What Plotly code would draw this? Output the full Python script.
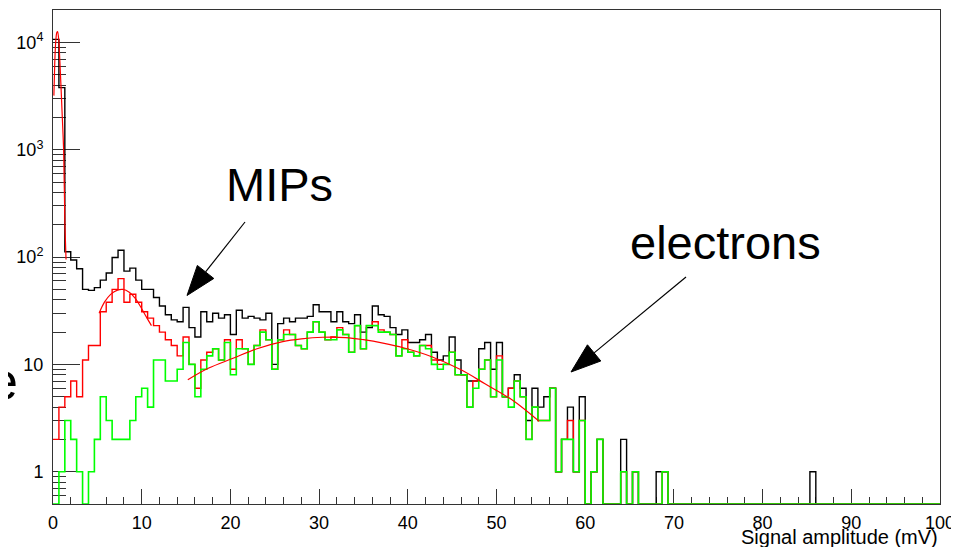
import math
import plotly.graph_objects as go

# ---------------- data ----------------
bin_width = 2.0 / 3.0          # 150 bins over 0..100 mV
n_bins = 150

black_counts = [
    10700, 3800, 112, 94, 78, 50, 49, 52, 61, 71,
    99, 116, 74, 79, 61, 50, 50, 42, 35, 29,
    26, 25, 34, 22, 18, 31, 25, 30, 27, 29,
    19, 32, 27, 28, 27, 26, 30, 10, 24, 27,
    25, 27, 27, 28, 36, 31, 31, 25, 31, 25,
    24, 29, 20, 22, 35, 29, 28, 22, 19, 21,
    16, 16, 17, 19, 13, 11, 12, 18, 11, 8,
    7, 7, 14, 16, 9, 16, 5, 6, 8, 6,
    3, 6, 4, 5, 6, 1, 2, 4, 1, 5,
    0, 1, 2, 0, 0, 0, 2, 0, 1, 0,
    0, 0, 1, 1, 0, 0, 0, 0, 0, 0,
    0, 0, 0, 0, 0, 0, 0, 0, 0, 0,
    0, 0, 0, 0, 0, 0, 0, 0, 1, 0,
    0, 0, 0, 0, 0, 0, 0, 0, 0, 0,
    0, 0, 0, 0, 0, 0, 0, 0, 0, 0,
]

red_counts = [
    2, 4, 5, 7, 5, 11, 15, 15, 31, 38,
    50, 63, 38, 45, 38, 31, 27, 23, 20, 17,
    15, 12, 18, 10, 6, 11, 13, 14, 11, 17,
    9, 17, 14, 10, 15, 21, 17, 9, 17, 21,
    19, 15, 14, 20, 25, 20, 17, 18, 22, 19,
    13, 23, 14, 23, 25, 21, 20, 19, 12, 17,
    13, 12, 15, 15, 11, 10, 10, 13, 8, 8,
    4, 7, 9, 11, 5, 12, 5, 6, 7, 5,
    2, 4, 3, 3, 6, 1, 2, 3, 1, 3,
    0, 1, 2, 0, 0, 0, 1, 0, 1, 0,
    0, 0, 0, 1, 0, 0, 0, 0, 0, 0,
    0, 0, 0, 0, 0, 0, 0, 0, 0, 0,
    0, 0, 0, 0, 0, 0, 0, 0, 0, 0,
    0, 0, 0, 0, 0, 0, 0, 0, 0, 0,
    0, 0, 0, 0, 0, 0, 0, 0, 0, 0,
]

green_counts = [
    0, 1, 3, 2, 1, 0, 1, 2, 5, 3,
    2, 2, 2, 3, 5, 6, 4, 11, 11, 7,
    7, 9, 16, 10, 5, 9, 12, 14, 11, 16,
    8, 14, 14, 10, 15, 20, 17, 9, 17, 19,
    19, 15, 14, 20, 25, 20, 17, 17, 21, 19,
    13, 23, 14, 23, 23, 20, 20, 19, 12, 14,
    13, 12, 15, 14, 10, 9, 10, 13, 8, 8,
    4, 6, 9, 11, 5, 11, 5, 4, 7, 5,
    2, 4, 3, 3, 6, 1, 2, 2, 1, 3,
    0, 1, 2, 0, 0, 0, 1, 0, 1, 0,
    0, 0, 0, 1, 0, 0, 0, 0, 0, 0,
    0, 0, 0, 0, 0, 0, 0, 0, 0, 0,
    0, 0, 0, 0, 0, 0, 0, 0, 0, 0,
    0, 0, 0, 0, 0, 0, 0, 0, 0, 0,
    0, 0, 0, 0, 0, 0, 0, 0, 0, 0,
]

# fit curves
ped_fit_x = [0.10, 0.20, 0.30, 0.42, 0.53, 0.65, 0.78, 0.90, 1.05, 1.20, 1.35, 1.47]
ped_fit_y = [3200, 6500, 10000, 12300, 12600, 10500, 6500, 3900, 2000, 1000, 190, 95]

mip_fit_x = [5.2, 5.8, 6.5, 7.2, 7.9, 8.6, 9.3, 10.0, 10.6, 11.1]
mip_fit_y = [30, 38, 45, 49, 50, 47, 41, 33, 27, 23]

ele_fit_x = [15.2, 17.5, 20.3, 23.0, 25.9, 28.0, 30.4, 33.0, 35.0, 37.2, 39.5, 42.7, 46.0, 48.7, 51.7, 54.8]
ele_fit_y = [7.2, 9.2, 11.4, 14.0, 16.3, 17.3, 17.9, 17.8, 17.0, 15.8, 14.3, 11.8, 8.9, 6.6, 4.7, 2.95]

x_tick_vals = [0, 10, 20, 30, 40, 50, 60, 70, 80, 90, 100]
y_tick_vals = [1, 10, 100, 1000, 10000]
y_tick_text = ["1", "10", "10<sup>2</sup>", "10<sup>3</sup>", "10<sup>4</sup>"]
y_minor_vals = [0.6, 0.7, 0.8, 0.9] + [m * 10 ** d for d in range(0, 4) for m in range(2, 10)]

x_title = "Signal amplitude (mV)"
label_mips = "MIPs"
label_electrons = "electrons"

# ---------------- figure ----------------
# the page body has an 8px margin, so the figure is sized/placed to compensate
OFF = 8
W, H = 959 - OFF, 547 - OFF
ML, MR, MT, MB = 53 - OFF, 19, 10 - OFF, 43
Y_MIN, Y_MAX_LOG = 0.5, 4.303
FONT = "Liberation Sans, Arial, Helvetica, sans-serif"

edges = [i * bin_width for i in range(n_bins + 1)]


def step(counts):
    y = [max(c, Y_MIN) for c in counts]
    return edges, y + [y[-1]]


fig = go.Figure()
for counts, col, lw in [(black_counts, "#000000", 1.4), (red_counts, "#ff0000", 1.4),
                        (green_counts, "#00ff00", 1.6)]:
    xs, ys = step(counts)
    fig.add_trace(go.Scatter(x=xs, y=ys, mode="lines", line=dict(color=col, width=lw, shape="hv"),
                             hoverinfo="skip", showlegend=False))

fig.add_trace(go.Scatter(x=ped_fit_x, y=ped_fit_y, mode="lines",
                         line=dict(color="#ff0000", width=1.2, shape="spline", smoothing=0.6),
                         showlegend=False, hoverinfo="skip"))
fig.add_trace(go.Scatter(x=mip_fit_x, y=mip_fit_y, mode="lines",
                         line=dict(color="#ff0000", width=1.2, shape="spline"),
                         showlegend=False, hoverinfo="skip"))
fig.add_trace(go.Scatter(x=ele_fit_x, y=ele_fit_y, mode="lines",
                         line=dict(color="#ff0000", width=1.2, shape="spline"),
                         showlegend=False, hoverinfo="skip"))

PW = W - ML - MR
PH = H - MT - MB


def px(xp):
    # page pixel -> paper fraction
    return (xp - OFF - ML) / PW


def py(yp):
    return (H - MB - (yp - OFF)) / PH


def arrow(tail, tip, head_len=30, head_w=21):
    dx, dy = tip[0] - tail[0], tip[1] - tail[1]
    L = math.hypot(dx, dy)
    ux, uy = dx / L, dy / L
    bx, by = tip[0] - head_len * ux, tip[1] - head_len * uy
    nx, ny = -uy, ux
    c1 = (bx + nx * head_w / 2, by + ny * head_w / 2)
    c2 = (bx - nx * head_w / 2, by - ny * head_w / 2)
    return [
        dict(type="line", xref="paper", yref="paper", x0=px(tail[0]), y0=py(tail[1]),
             x1=px(bx), y1=py(by), line=dict(color="black", width=1.2)),
        dict(type="path", xref="paper", yref="paper",
             path="M {} {} L {} {} L {} {} Z".format(px(tip[0]), py(tip[1]), px(c1[0]), py(c1[1]),
                                                     px(c2[0]), py(c2[1])),
             fillcolor="black", line=dict(color="black", width=1)),
    ]


shapes = arrow((245, 222), (187, 295.5)) + arrow((686, 277), (571, 372))

axis_col = "#333333"
fig.update_layout(
    width=W, height=H,
    margin=dict(l=ML, r=MR, t=MT, b=MB, autoexpand=False),
    paper_bgcolor="white", plot_bgcolor="white",
    font=dict(family=FONT, color="black"),
    shapes=shapes,
    xaxis=dict(range=[0, 100], tickmode="array", tickvals=x_tick_vals, automargin=False,
               ticks="inside", ticklen=15, tickcolor=axis_col, tickwidth=1,
               showline=True, linecolor=axis_col, linewidth=1, mirror=True,
               layer="below traces",
               showgrid=False, zeroline=False, tickfont=dict(size=18, family=FONT),
               ticklabelstandoff=2,
               minor=dict(ticks="inside", ticklen=7, dtick=2, tick0=0, tickcolor=axis_col, showgrid=False)),
    yaxis=dict(type="log", range=[math.log10(Y_MIN), Y_MAX_LOG], tickmode="array", automargin=False,
               tickvals=y_tick_vals, ticktext=y_tick_text,
               ticks="inside", ticklen=27, tickcolor=axis_col, tickwidth=1,
               showline=True, linecolor=axis_col, linewidth=1, mirror=True,
               layer="below traces",
               showgrid=False, zeroline=False, tickfont=dict(size=18, family=FONT),
               ticklabelstandoff=5,
               minor=dict(ticks="inside", ticklen=13, tickmode="array", tickvals=y_minor_vals,
                          tickcolor=axis_col, showgrid=False)),
    annotations=[
        dict(text=x_title, xref="paper", yref="paper", x=1.0, y=py(537), xanchor="right",
             yanchor="middle", showarrow=False, font=dict(size=20, family=FONT)),
        dict(text=label_mips, xref="paper", yref="paper", x=px(279), y=py(185), xanchor="center",
             yanchor="middle", showarrow=False, font=dict(size=47, family=FONT)),
        dict(text=label_electrons, xref="paper", yref="paper", x=px(725), y=py(242), xanchor="center",
             yanchor="middle", showarrow=False, font=dict(size=47, family=FONT)),
        dict(text="e", xref="paper", yref="paper", x=px(20), y=py(381), xanchor="right",
             yanchor="middle", showarrow=False, font=dict(size=52, family=FONT)),
    ],
)

fig.write_html("out.html")
